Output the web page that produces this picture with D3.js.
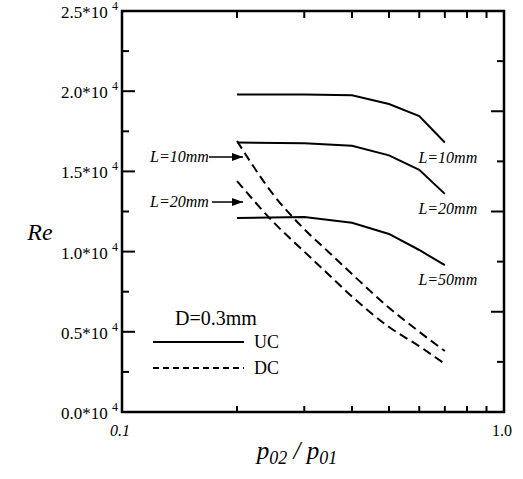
<!DOCTYPE html>
<html>
<head>
<meta charset="utf-8">
<script src="https://cdn.jsdelivr.net/npm/d3@7"></script>
<style>
  body { margin: 0; background: #fff; }
  svg text { font-family: "Liberation Serif", "DejaVu Serif", serif; fill: #000; }
</style>
</head>
<body>
<div id="chart"></div>
<script>
// x values (pressure ratio) for the upstream cavity curves
const xUc = [0.2, 0.3, 0.4, 0.5, 0.6, 0.7];
const uc10 = [19800, 19800, 19750, 19200, 18450, 16800];
const uc20 = [16800, 16750, 16600, 16000, 15100, 13600];
const uc50 = [12100, 12150, 11800, 11100, 10100, 9150];

// downstream cavity curves
const xDc = [0.2, 0.25, 0.3, 0.35, 0.4, 0.5, 0.6, 0.7];
const dc10 = [16900, 13500, 11400, 9900, 8600, 6500, 5000, 3800];
const dc20 = [14400, 11800, 10000, 8500, 7200, 5300, 4100, 3000];

// tick values / labels
const yMajor = [0, 5000, 10000, 15000, 20000, 25000];
const yLabels = ["0.0", "0.5", "1.0", "1.5", "2.0", "2.5"];
const yMinor = [2500, 7500, 12500, 17500, 22500];
const xMajor = [0.1, 1.0];
const xLabels = ["0.1", "1.0"];
const xMinor = [0.2, 0.3, 0.4, 0.5, 0.6, 0.7, 0.8, 0.9];
const rightTicks = [1, 2, 3, 4, 5, 6, 7];

drawChart();

function drawChart() {
  let width = 523, height = 479;
  let left = 122, right = 504, top = 11, bottom = 412;

  let svg = d3.select("#chart").append("svg")
    .attr("width", width)
    .attr("height", height);

  let x = d3.scaleLog().domain([0.1, 1]).range([left, right]);
  let y = d3.scaleLinear().domain([0, 25000]).range([bottom, top]);
  // the right frame uses its own spacing in the original
  let yR = d3.scaleLinear().domain([0, 8]).range([bottom, top]);

  // ticks, all pointing inward
  let g = svg.append("g").attr("stroke", "#000").attr("fill", "none");
  yMajor.forEach(function (v) {
    g.append("line").attr("x1", left).attr("x2", left + 13)
      .attr("y1", y(v)).attr("y2", y(v)).attr("stroke-width", 2);
  });
  yMinor.forEach(function (v) {
    g.append("line").attr("x1", left).attr("x2", left + 7)
      .attr("y1", y(v)).attr("y2", y(v)).attr("stroke-width", 2);
  });
  rightTicks.forEach(function (v) {
    let len = v % 2 === 0 ? 13 : 7;
    g.append("line").attr("x1", right - len).attr("x2", right)
      .attr("y1", yR(v)).attr("y2", yR(v)).attr("stroke-width", 2);
  });
  xMinor.forEach(function (v) {
    g.append("line").attr("x1", x(v)).attr("x2", x(v))
      .attr("y1", bottom).attr("y2", bottom - 6).attr("stroke-width", 2);
    g.append("line").attr("x1", x(v)).attr("x2", x(v))
      .attr("y1", top).attr("y2", top + 7).attr("stroke-width", 2);
  });

  // frame
  svg.append("rect")
    .attr("x", left).attr("y", top)
    .attr("width", right - left).attr("height", bottom - top)
    .attr("fill", "none").attr("stroke", "#000").attr("stroke-width", 2.5);

  // y tick labels like 2.5*10^4
  yMajor.forEach(function (v, i) {
    let t = svg.append("text")
      .attr("x", left - 4).attr("y", y(v) + 7)
      .attr("text-anchor", "end")
      .style("font-size", "17px");
    t.append("tspan").text(yLabels[i] + "*10 ");
    t.append("tspan").attr("dy", -8).style("font-size", "12px").text("4");
  });

  // x tick labels
  xMajor.forEach(function (v, i) {
    svg.append("text")
      .attr("x", x(v) - 2).attr("y", bottom + 24)
      .attr("text-anchor", "middle")
      .style("font-size", "16px")
      .style("font-style", i === 0 ? "italic" : "normal")
      .text(xLabels[i]);
  });

  // axis titles
  svg.append("text")
    .attr("x", 40).attr("y", 240)
    .attr("text-anchor", "middle")
    .style("font-size", "24px").style("font-style", "italic")
    .text("Re");

  let xt = svg.append("text")
    .attr("x", 297).attr("y", 459)
    .attr("text-anchor", "middle")
    .style("font-size", "25px").style("font-style", "italic");
  xt.append("tspan").text("p");
  xt.append("tspan").attr("dy", 5).style("font-size", "18px").text("02");
  xt.append("tspan").attr("dy", -5).text(" / p");
  xt.append("tspan").attr("dy", 5).style("font-size", "18px").text("01");

  // curves
  let line = d3.line()
    .x(function (d) { return x(d[0]); })
    .y(function (d) { return y(d[1]); });

  [uc10, uc20, uc50].forEach(function (s) {
    svg.append("path")
      .datum(d3.zip(xUc, s))
      .attr("d", line)
      .attr("fill", "none").attr("stroke", "#000").attr("stroke-width", 2);
  });
  [dc10, dc20].forEach(function (s) {
    svg.append("path")
      .datum(d3.zip(xDc, s))
      .attr("d", line.curve(d3.curveMonotoneX))
      .attr("fill", "none").attr("stroke", "#000").attr("stroke-width", 2)
      .attr("stroke-dasharray", "9,5");
  });

  // curve labels on the right
  let lab = [["L=10mm", uc10], ["L=20mm", uc20], ["L=50mm", uc50]];
  lab.forEach(function (l) {
    svg.append("text")
      .attr("x", x(0.7) + 3).attr("y", y(l[1][l[1].length - 1]) + 20)
      .attr("text-anchor", "middle")
      .style("font-size", "16px").style("font-style", "italic")
      .text(l[0]);
  });

  // arrow labels for the DC curves
  svg.append("defs").append("marker")
    .attr("id", "arr").attr("viewBox", "0 0 10 10")
    .attr("refX", 10).attr("refY", 5)
    .attr("markerWidth", 11).attr("markerHeight", 8)
    .attr("markerUnits", "userSpaceOnUse")
    .attr("orient", "auto")
    .attr("preserveAspectRatio", "none")
    .append("path").attr("d", "M0,0L10,5L0,10z").attr("fill", "#000");

  let arrows = [["L=10mm", dc10[0]], ["L=20mm", dc20[0]]];
  arrows.forEach(function (a, i) {
    let yy = y(a[1]) + 16 + i * 5;
    svg.append("text")
      .attr("x", 150).attr("y", yy + 5)
      .style("font-size", "16px").style("font-style", "italic")
      .text(a[0]);
    svg.append("line")
      .attr("x1", 209 + i * 3).attr("x2", x(0.2) + 6)
      .attr("y1", yy).attr("y2", yy)
      .attr("stroke", "#000").attr("stroke-width", 1.5)
      .attr("marker-end", "url(#arr)");
  });

  // legend
  svg.append("text")
    .attr("x", 175).attr("y", 325)
    .style("font-size", "20px")
    .text("D=0.3mm");
  svg.append("line")
    .attr("x1", 153).attr("x2", 244).attr("y1", 342).attr("y2", 342)
    .attr("stroke", "#000").attr("stroke-width", 2);
  svg.append("text").attr("x", 254).attr("y", 348)
    .style("font-size", "18px").text("UC");
  svg.append("line")
    .attr("x1", 153).attr("x2", 244).attr("y1", 368).attr("y2", 368)
    .attr("stroke", "#000").attr("stroke-width", 2)
    .attr("stroke-dasharray", "6,4");
  svg.append("text").attr("x", 254).attr("y", 374)
    .style("font-size", "18px").text("DC");
}
</script>
</body>
</html>
